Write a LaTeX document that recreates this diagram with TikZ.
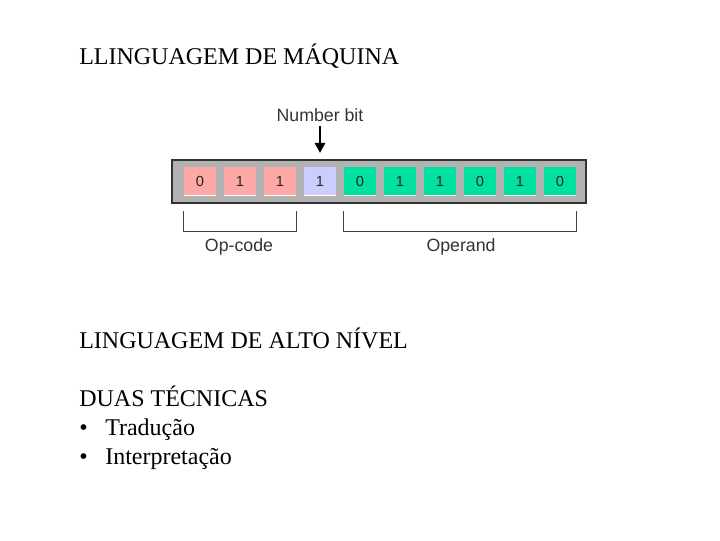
\documentclass[tikz,border=0pt]{standalone}
\usepackage{fontspec}
\setmainfont{Liberation Serif}
\newfontfamily\arialfont{Liberation Sans}
\usetikzlibrary{arrows.meta,positioning}
\definecolor{opcodecol}{HTML}{FFA8A8}
\definecolor{numbitcol}{HTML}{CCCCFF}
\definecolor{operandcol}{HTML}{00E0A0}
\definecolor{barcol}{HTML}{B2B2B2}
\tikzset{
	heading/.style={anchor=base west, inner sep=0pt, font=\fontsize{18}{21}\selectfont},
	wordbar/.style={draw=black!80, fill=barcol, line width=0.8pt, minimum width=310.5pt, minimum height=32.25pt, inner sep=0pt},
	bitcell/.style={minimum width=24pt, minimum height=21.5pt, inner sep=0pt, font=\arialfont\fontsize{11}{12}\selectfont, text=black!85},
	bracket/.style={draw=black!75, line width=0.8pt},
	fieldname/.style={inner sep=0pt, font=\arialfont\fontsize{13.3}{15}\selectfont, text=black!80},
	flow/.style={-{Triangle[length=7.5pt, width=8pt]}, line width=1pt}
}

\begin{document}
\begin{tikzpicture}[x=0.75pt, y=-0.75pt]
	\useasboundingbox (0,0) rectangle (720,540);
	% headings
	\node[heading] (mach) at (79,64) {LLINGUAGEM DE MÁQUINA};
	\node[heading] (high) at (79,348) {LINGUAGEM DE ALTO NÍVEL};
	\node[heading] (two) at (79,406) {DUAS TÉCNICAS};
	\node[heading] (dot1) at (79,435) {•};
	\node[heading] (trad) at (105,435) {Tradução};
	\node[heading] (dot2) at (79,464) {•};
	\node[heading] (interp) at (105,464) {Interpretação};
	% instruction word
	\node[wordbar] (word) at (379,181.5) {};
	\foreach \b [count=\i] in {0,1,1,1,0,1,1,0,1,0} {
		\ifnum\i<4 \def\c{opcodecol}\else\ifnum\i=4 \def\c{numbitcol}\else\def\c{operandcol}\fi\fi
		\node[bitcell, fill=\c] (b\i) at (160+\i*40, 181) {\b};
		\draw[white, line width=0.9pt] (b\i.south west) -- (b\i.south east);
	}
	\node[fieldname] (numbit) at (320,115) {Number bit};
	\draw[flow] ([yshift=-3pt]numbit.south -| b4) -- ([yshift=5pt]b4.north |- word.north);
	% fields
	\draw[bracket] ([yshift=-5.5pt]b1.west |- word.south) -- ++(0,21) -| ([yshift=-5.5pt]b3.east |- word.south);
	\draw[bracket] ([yshift=-5.5pt]b5.west |- word.south) -- ++(0,21) -| ([yshift=-5.5pt]b10.east |- word.south);
	\node[fieldname] (opcode) at (239,247) {Op-code};
	\node[fieldname] (operand) at (461,247) {Operand};
\end{tikzpicture}
\end{document}
